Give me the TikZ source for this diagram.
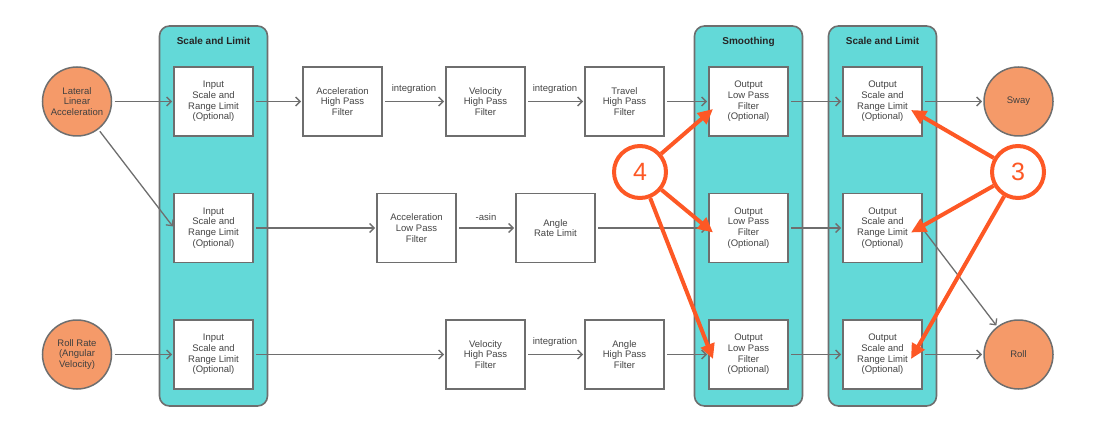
\documentclass[tikz,border=0pt]{standalone}
\usepackage{fontspec}
\setmainfont{Liberation Sans}
\usetikzlibrary{arrows.meta,positioning,fit,calc,backgrounds}
\definecolor{panelteal}{HTML}{63D9D8}
\definecolor{edgegray}{HTML}{6E6E6E}
\definecolor{txtgray}{HTML}{444444}
\definecolor{portorange}{HTML}{F59A69}
\definecolor{markred}{HTML}{FD5825}
\tikzset{
	blockbox/.style={rectangle, draw=edgegray, line width=1.5pt, fill=white,
		minimum width=79pt, minimum height=69pt, align=center, text=txtgray,
		font=\fontsize{9.5}{10.7}\selectfont, inner sep=1pt, outer sep=0pt},
	portnode/.style={circle, draw=edgegray, line width=1.5pt, fill=portorange,
		minimum size=69pt, align=center, text=black!75,
		font=\fontsize{9.5}{10.7}\selectfont, inner sep=0pt, outer sep=0pt},
	panel/.style={rectangle, rounded corners=10pt, draw=edgegray, line width=1.6pt,
		fill=panelteal, inner xsep=14.5pt, inner ysep=0pt},
	paneltitle/.style={font=\bfseries\fontsize{10}{12}\selectfont, text=black!85,
		inner sep=0pt, anchor=base},
	flowarr/.style={-{Straight Barb[length=4.5pt,width=9pt]}, draw=edgegray,
		line width=1.3pt, shorten <=3pt, shorten >=2pt},
	flowlbl/.style={font=\fontsize{9.5}{10.7}\selectfont, text=txtgray,
		inner sep=0pt, above=7pt},
	callout/.style={circle, draw=markred, line width=4pt, fill=white,
		minimum size=52pt, text=markred, font=\fontsize{25}{25}\selectfont,
		inner sep=0pt},
	callarr/.style={-{Triangle[length=15pt,width=14pt]}, draw=markred,
		line width=4pt}
}

\begin{document}
\begin{tikzpicture}[x=1pt, y=-1pt]
	\useasboundingbox (0,0) rectangle (1099,438);
	% input side
	\node[blockbox] (in1) at (213.5,101.5) {Input\\Scale and\\Range Limit\\(Optional)};
	\node[blockbox, below=57.5pt of in1] (in2) {Input\\Scale and\\Range Limit\\(Optional)};
	\node[blockbox, below=57.5pt of in2] (in3) {Input\\Scale and\\Range Limit\\(Optional)};
	\node[portnode, left=62.5pt of in1] (lat) {Lateral\\Linear\\Acceleration};
	\node[portnode, left=62.5pt of in3] (rollrate) {Roll Rate\\(Angular\\Velocity)};
	% sway channel
	\node[blockbox, right=50pt of in1] (acchp) {Acceleration\\High Pass\\Filter};
	\node[blockbox, right=64pt of acchp] (velhp) {Velocity\\High Pass\\Filter};
	\node[blockbox, right=60pt of velhp] (travhp) {Travel\\High Pass\\Filter};
	\node[blockbox, right=45pt of travhp] (lp1) {Output\\Low Pass\\Filter\\(Optional)};
	\node[blockbox, right=55pt of lp1] (os1) {Output\\Scale and\\Range Limit\\(Optional)};
	\node[portnode, right=62pt of os1] (sway) {Sway};
	% tilt channel
	\node[blockbox, right=124pt of in2] (acclp) {Acceleration\\Low Pass\\Filter};
	\node[blockbox, right=60pt of acclp] (angrate) {Angle\\Rate Limit};
	\node[blockbox, below=57.5pt of lp1] (lp2) {Output\\Low Pass\\Filter\\(Optional)};
	\node[blockbox, below=57.5pt of os1] (os2) {Output\\Scale and\\Range Limit\\(Optional)};
	% roll channel
	\node[blockbox] (velhp3) at (velhp |- in3) {Velocity\\High Pass\\Filter};
	\node[blockbox] (anghp) at (travhp |- in3) {Angle\\High Pass\\Filter};
	\node[blockbox] (lp3) at (lp1 |- in3) {Output\\Low Pass\\Filter\\(Optional)};
	\node[blockbox] (os3) at (os1 |- in3) {Output\\Scale and\\Range Limit\\(Optional)};
	\node[portnode] (roll) at (sway |- in3) {Roll};
	% panels
	\coordinate (intop) at ($(in1.north)+(0,-41)$);
	\coordinate (inbot) at ($(in3.south)+(0,17)$);
	\coordinate (lptop) at ($(lp1.north)+(0,-41)$);
	\coordinate (lpbot) at ($(lp3.south)+(0,17)$);
	\coordinate (ostop) at ($(os1.north)+(0,-41)$);
	\coordinate (osbot) at ($(os3.south)+(0,17)$);
	\begin{scope}[on background layer]
		\node[panel, fit=(intop)(in1)(inbot)] (panin) {};
		\node[panel, fit=(lptop)(lp1)(lpbot)] (panlp) {};
		\node[panel, fit=(ostop)(os1)(osbot)] (panos) {};
	\end{scope}
	\node[paneltitle] (titin) at ($(panin.north)+(0,19)$) {Scale and Limit};
	\node[paneltitle] (titlp) at ($(panlp.north)+(0,19)$) {Smoothing};
	\node[paneltitle] (titos) at ($(panos.north)+(0,19)$) {Scale and Limit};
	% connectors
	\draw[flowarr] (lat) -- (in1);
	\draw[flowarr] (lat) -- (in2.west);
	\draw[flowarr] (rollrate) -- (in3);
	\draw[flowarr] (in1) -- (acchp);
	\draw[flowarr] (acchp) -- node[flowlbl] {integration} (velhp);
	\draw[flowarr] (velhp) -- node[flowlbl] {integration} (travhp);
	\draw[flowarr] (travhp) -- (lp1);
	\draw[flowarr] (lp1) -- (os1);
	\draw[flowarr] (os1) -- (sway);
	\draw[flowarr] (in2) -- (acclp);
	\draw[flowarr] (acclp) -- node[flowlbl] {-asin} (angrate);
	\draw[flowarr] (angrate) -- (lp2);
	\draw[flowarr] (lp2) -- (os2);
	\draw[flowarr] (os2.east) -- (roll);
	\draw[flowarr] (in3) -- (velhp3);
	\draw[flowarr] (velhp3) -- node[flowlbl] {integration} (anghp);
	\draw[flowarr] (anghp) -- (lp3);
	\draw[flowarr] (lp3) -- (os3);
	\draw[flowarr] (os3) -- (roll);
	% callouts
	\node[callout] (four) at (640,172) {4};
	\node[callout] (three) at (1018,172) {3};
	\coordinate (hitlp1) at ($(lp1.west)+(4,7.5)$);
	\coordinate (hitlp2) at ($(lp2.west)+(4,4.5)$);
	\coordinate (hitlp3) at ($(lp3.west)+(4,4.5)$);
	\coordinate (hitos1) at ($(os1.east)+(-11,8.5)$);
	\coordinate (hitos2) at ($(os2.east)+(-11,4.5)$);
	\coordinate (hitos3) at ($(os3.east)+(-11,4.5)$);
	\draw[callarr] (four) -- (hitlp1);
	\draw[callarr] (four) -- (hitlp2);
	\draw[callarr] (four) -- (hitlp3);
	\draw[callarr] (three) -- (hitos1);
	\draw[callarr] (three) -- (hitos2);
	\draw[callarr] (three) -- (hitos3);
\end{tikzpicture}
\end{document}
